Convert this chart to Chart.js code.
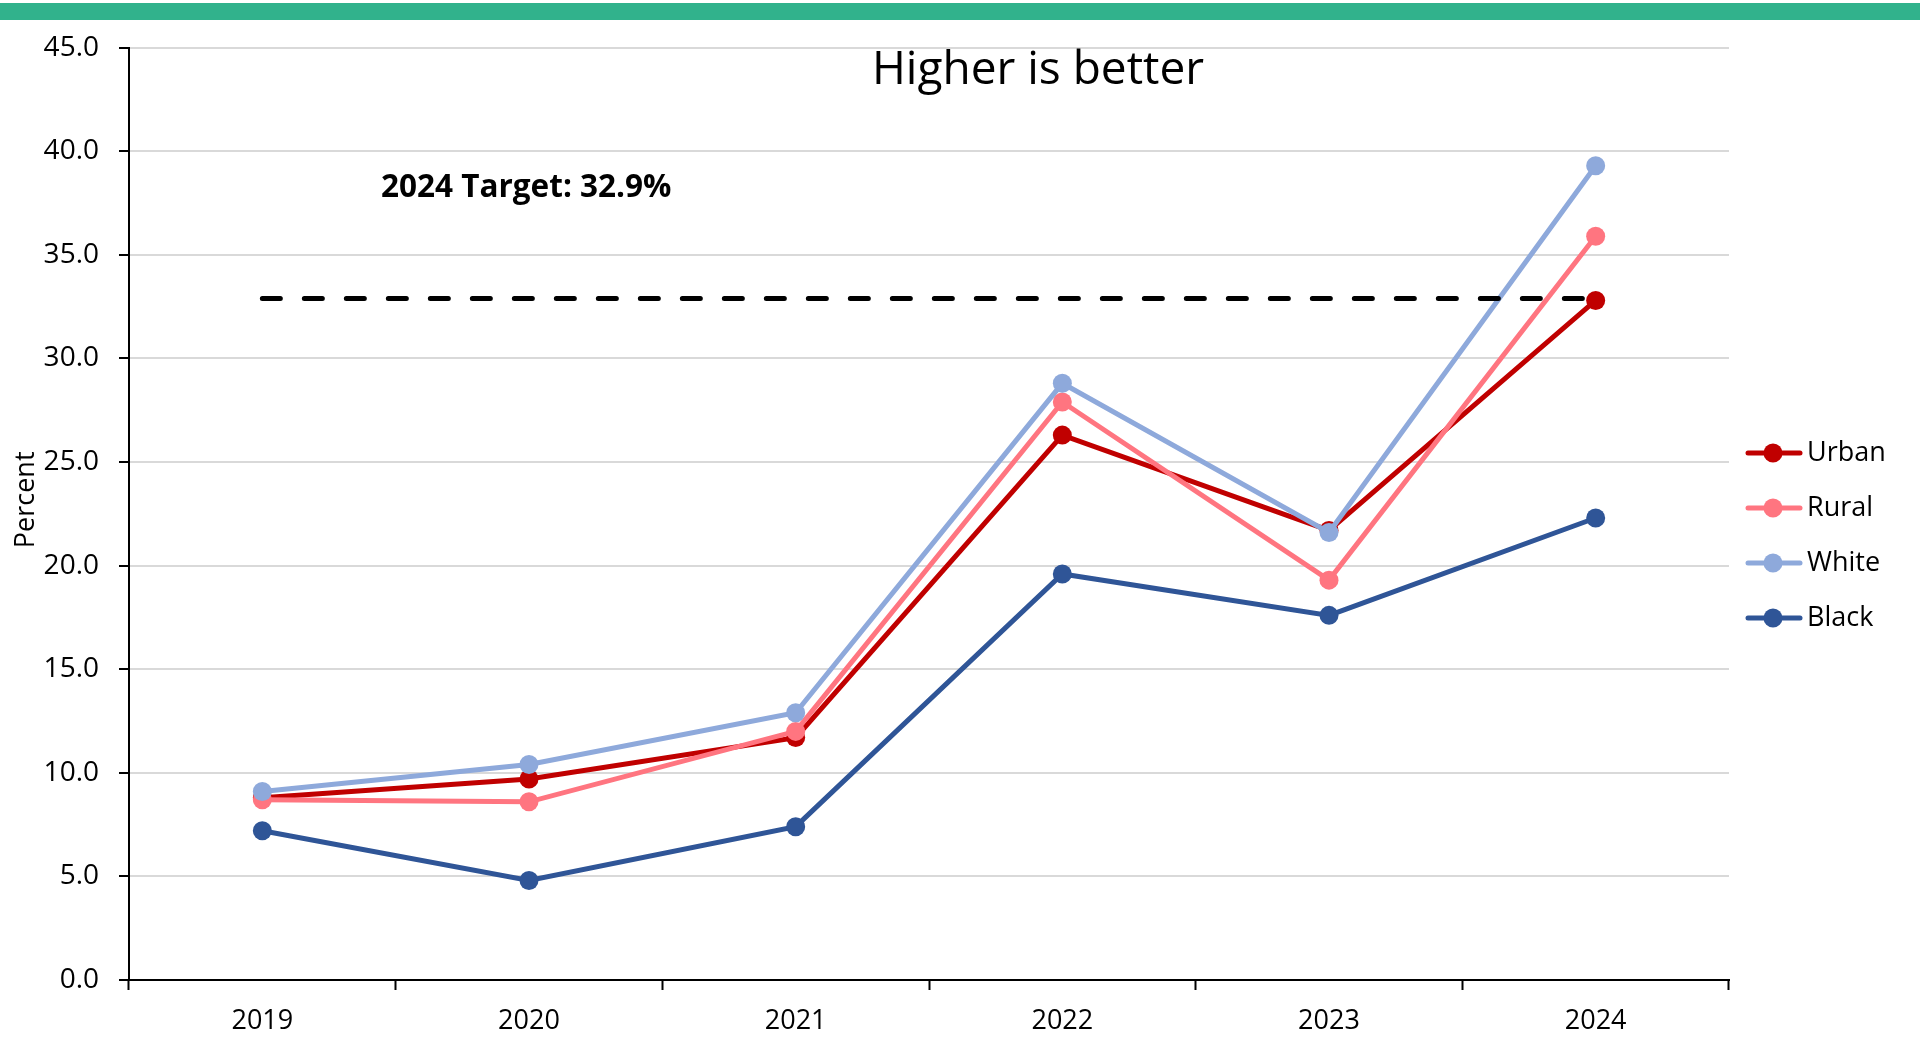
<!DOCTYPE html>
<html>
<head>
<meta charset="utf-8">
<script src="https://cdn.jsdelivr.net/npm/chart.js"></script>
<style>
  body { margin: 0; background: #fff; }
  #wrap { width: 1920px; height: 1037px; position: relative; }
</style>
</head>
<body>
<div id="wrap"><canvas id="myChart"></canvas></div>
<script>
// values
var years = ["2019", "2020", "2021", "2022", "2023", "2024"];
var urban = [8.8, 9.7, 11.7, 26.3, 21.7, 32.8];
var rural = [8.7, 8.6, 12.0, 27.9, 19.3, 35.9];
var white = [9.1, 10.4, 12.9, 28.8, 21.6, 39.3];
var black = [7.2, 4.8, 7.4, 19.6, 17.6, 22.3];
var target = [32.9, 32.9, 32.9, 32.9, 32.9, 32.9];
var yMin = 0;
var yMax = 45;
var yStep = 5;

var font = "'Open Sans', 'DejaVu Sans', sans-serif";

function series(label, data, color, order) {
  return {
    label: label,
    data: data,
    borderColor: color,
    backgroundColor: color,
    pointBackgroundColor: color,
    pointBorderWidth: 0,
    pointRadius: 9.5,
    pointHoverRadius: 9.5,
    borderWidth: 5,
    tension: 0,
    order: order,
    inLegend: true
  };
}

// title, target note, green band and the legend
var extras = {
  id: "extras",
  beforeDraw: function (chart) {
    var ctx = chart.ctx;
    ctx.save();
    ctx.fillStyle = "#31B28C";
    ctx.fillRect(0, 3, chart.width, 17);
    ctx.restore();
  },
  afterDraw: function (chart) {
    var ctx = chart.ctx;
    ctx.save();
    ctx.fillStyle = "#000";
    ctx.textBaseline = "alphabetic";
    ctx.textAlign = "center";
    ctx.font = "46px " + font;
    ctx.fillText("Higher is better", 1038, 84);
    ctx.textAlign = "left";
    ctx.font = "bold 31.5px " + font;
    ctx.fillText("2024 Target: 32.9%", 381, 197);

    var k = 0;
    chart.data.datasets.forEach(function (ds) {
      if (!ds.inLegend) return;
      var y = 453 + k * 55;
      ctx.strokeStyle = ds.borderColor;
      ctx.lineWidth = 5;
      ctx.lineCap = "round";
      ctx.beginPath();
      ctx.moveTo(1748, y);
      ctx.lineTo(1800, y);
      ctx.stroke();
      ctx.fillStyle = ds.borderColor;
      ctx.beginPath();
      ctx.arc(1773, y, 9.5, 0, Math.PI * 2);
      ctx.fill();
      ctx.fillStyle = "#000";
      ctx.font = "27px " + font;
      ctx.textBaseline = "middle";
      ctx.fillText(ds.label, 1807, y);
      k++;
    });
    ctx.restore();
  }
};

new Chart("myChart", {
  type: "line",
  data: {
    labels: years,
    datasets: [
      series("Urban", urban, "#C00000", 5),
      series("Rural", rural, "#FF7580", 4),
      series("White", white, "#8EA9DB", 3),
      series("Black", black, "#2F5597", 2),
      {
        label: "2024 Target",
        data: target,
        borderColor: "#000",
        borderWidth: 5,
        borderDash: [18, 24],
        borderCapStyle: "round",
        pointRadius: 0,
        pointHoverRadius: 0,
        order: 1
      }
    ]
  },
  plugins: [extras],
  options: {
    responsive: true,
    maintainAspectRatio: false,
    animation: false,
    events: [],
    layout: { padding: { left: 0, top: 47.7, right: 191, bottom: 0 } },
    plugins: {
      legend: { display: false },
      tooltip: { enabled: false },
      title: { display: false }
    },
    scales: {
      x: {
        offset: true,
        grid: {
          offset: true,
          drawOnChartArea: false,
          drawTicks: true,
          tickLength: 10,
          tickWidth: 2,
          tickColor: "#000"
        },
        border: { color: "#000", width: 2 },
        ticks: {
          color: "#000",
          padding: 15,
          maxRotation: 0,
          font: { family: font, size: 27 }
        },
        afterFit: function (scale) { scale.height = 57; }
      },
      y: {
        min: yMin,
        max: yMax,
        grid: {
          color: "#D9D9D9",
          lineWidth: 2,
          tickLength: 10,
          tickWidth: 2,
          tickColor: "#000"
        },
        border: { color: "#000", width: 2 },
        ticks: {
          stepSize: yStep,
          color: "#000",
          padding: 20,
          font: { family: font, size: 28 },
          callback: function (v) { return v.toFixed(1); }
        },
        title: {
          display: true,
          text: "    Percent",
          color: "#000",
          padding: { top: 10, bottom: 0 },
          font: { family: font, size: 27 }
        },
        afterFit: function (scale) { scale.width = 129; }
      }
    }
  }
});
</script>
</body>
</html>
